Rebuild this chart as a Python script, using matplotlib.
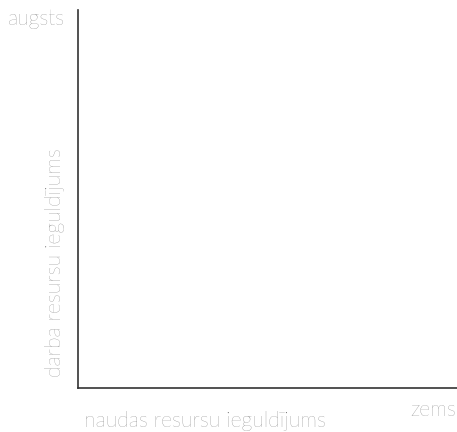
import matplotlib.pyplot as plt

# Axis texts
x_label = "naudas resursu ieguldījums"
y_label = "darba resursu ieguldījums"
high_label = "augsts"
low_label = "zems"

text_color = '#666666'
font = dict(family=['Lato', 'DejaVu Sans'], fontweight='light', color=text_color, fontsize=15.2)

fig = plt.figure(figsize=(4.57, 4.32), dpi=100)
ax = fig.add_axes([0.1707, 0.1019, 0.829, 0.875])

ax.set_xlim(0, 1)
ax.set_ylim(0, 1)
ax.set_xticks([])
ax.set_yticks([])
for side in ['top', 'right']:
    ax.spines[side].set_visible(False)
for side in ['left', 'bottom']:
    ax.spines[side].set_color('#333333')
    ax.spines[side].set_linewidth(1.2)

# Labels placed in figure coords
fig.text(84 / 457, 1 - 421 / 432, x_label, ha='left', va='center', **font)
fig.text(55 / 457, 1 - 263 / 432, y_label, ha='center', va='center', rotation=90, **font)
fig.text(8 / 457, 1 - 19 / 432, high_label, ha='left', va='center', **font)
fig.text(456 / 457, 1 - 410 / 432, low_label, ha='right', va='center', **font)

fig.savefig("out.png", dpi=100)
